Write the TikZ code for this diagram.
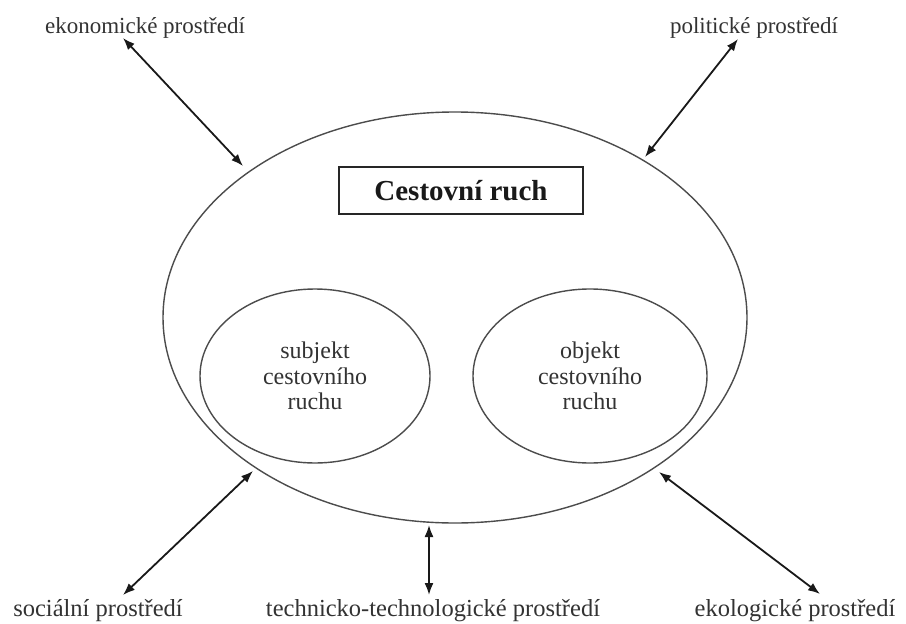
\documentclass[tikz,border=0pt]{standalone}
\usepackage{fontspec}
\setmainfont{Liberation Serif}
\usetikzlibrary{shapes.geometric,arrows.meta}
\begin{document}
\begin{tikzpicture}[x=1pt,y=-1pt,
  lbl/.style={font=\fontsize{23}{26}\selectfont, text=black!80, inner sep=0, anchor=base},
  blbl/.style={font=\fontsize{24.5}{26}\selectfont, text=black!80, inner sep=0, anchor=base},
  arr/.style={{Latex[length=12pt,width=9pt]}-{Latex[length=12pt,width=9pt]}, line width=1.8pt, draw=black!90},
  ell/.style={draw=black!70, ellipse, line width=1.4pt, inner sep=0},
  inner/.style={ell, minimum width=230pt, minimum height=174pt, align=center,
    font=\fontsize{24}{25.5}\selectfont, text=black!80},
  titlebox/.style={draw=black!85, line width=1.7pt, minimum width=244pt, minimum height=47pt,
    inner sep=0, font=\fontsize{29}{32}\selectfont\bfseries, text=black!90}]
\useasboundingbox (0,0) rectangle (906,624);
\fill[white] (0,0) rectangle (906,624);

% main ellipse and contents
\node[ell, minimum width=584pt, minimum height=411pt] (big) at (455,317.5) {};
\node[titlebox] (cr) at (461,190.5) {Cestovní ruch};
\node[inner] (subj) at (315,376) {subjekt\\cestovního\\ruchu};
\node[inner, minimum width=234pt] (obj) at (590,376) {objekt\\cestovního\\ruchu};

% labels
\node[lbl] (eko) at (145,33) {ekonomické prostředí};
\node[lbl] (pol) at (754,33) {politické prostředí};
\node[blbl] (soc) at (98,616) {sociální prostředí};
\node[blbl] (tech) at (433,616) {technicko-technologické prostředí};
\node[blbl] (ekol) at (795,616) {ekologické prostředí};

% arrow end points
\coordinate (eko1) at (123,38);
\coordinate (eko2) at (243,166);
\coordinate (pol1) at (738,39);
\coordinate (pol2) at (645,157);
\coordinate (soc1) at (123,595);
\coordinate (soc2) at (253,471);
\coordinate (tech1) at (429,595);
\coordinate (tech2) at (429,525);
\coordinate (ekol1) at (820,594);
\coordinate (ekol2) at (659,472);

% connectors
\draw[arr] (eko1) -- (eko2);
\draw[arr] (pol1) -- (pol2);
\draw[arr] (soc1) -- (soc2);
\draw[arr] (tech1) -- (tech2);
\draw[arr] (ekol1) -- (ekol2);
\end{tikzpicture}
\end{document}
